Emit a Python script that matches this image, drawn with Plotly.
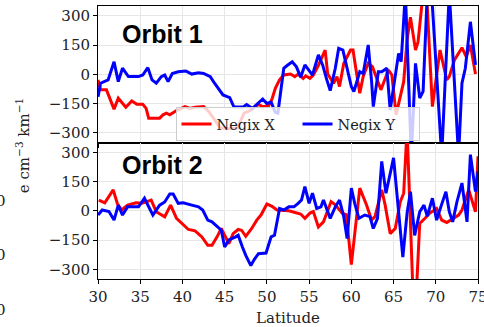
import plotly.graph_objects as go
from plotly.subplots import make_subplots

# Orbit 1 — Negix X
o1_x_lat = [30.0, 30.3, 31.0, 31.9, 32.4, 32.7, 33.3, 34.0, 34.6, 35.3, 35.7, 36.0, 37.3, 37.7,
            38.1, 38.5, 39.3, 40.3, 40.9, 41.5, 42.5, 43.1, 43.6, 44.5, 45.5, 46.5, 47.3, 48.0,
            48.4, 49.0, 49.5, 50.2, 50.6, 51.0, 51.5, 52.0, 52.8, 53.3, 53.7, 54.3, 54.6, 55.1,
            55.5, 56.1, 56.9, 57.2, 57.9, 58.3, 58.6, 59.1, 59.9, 60.2, 60.5, 61.0, 61.4, 62.0,
            62.5, 63.5, 64.4, 64.8, 65.3, 66.2, 66.6, 67.0, 67.6, 67.9, 68.5, 68.9, 69.6, 70.5,
            71.3, 71.6, 72.2, 73.1, 73.6, 74.1, 74.7]
o1_x_val = [-29, -80, -80, -179, -123, -140, -169, -137, -154, -154, -175, -225, -225, -208,
            -200, -208, -186, -166, -175, -169, -166, -190, -220, -276, -280, -276, -200, -186,
            -173, -155, -166, -162, -128, -72, -29, -4, 1, -12, 1, -21, -8, -21,
            -4, 46, 124, 1, -46, -12, -63, 55, 124, 124, 39, -97, -12, 57,
            39, -80, 22, -4, -208, -38, 176, 293, 124, 166, 420, 420, -166, 124,
            -29, -12, 72, 136, 90, 150, 1]

# Orbit 1 — Negix Y
o1_y_lat = [30.0, 30.3, 31.2, 31.9, 32.4, 32.9, 33.6, 34.8, 35.3, 35.9, 36.4, 36.9, 37.5, 37.9,
            38.3, 38.8, 39.5, 40.4, 41.1, 41.9, 42.5, 43.3, 43.8, 44.8, 45.3, 45.6, 46.1, 47.2,
            47.6, 48.3, 49.5, 50.0, 50.5, 51.0, 51.3, 52.0, 52.4, 53.0, 53.5, 54.0, 54.5, 55.1,
            55.4, 56.1, 56.6, 57.1, 57.5, 58.1, 58.5, 59.0, 59.4, 60.0, 60.3, 61.0, 61.4, 62.0,
            62.4, 62.6, 63.2, 63.6, 64.2, 64.6, 65.6, 65.9, 66.4, 67.1, 67.6, 68.1, 68.5, 69.0,
            69.5, 70.7, 71.6, 72.7, 73.1, 73.5, 74.1, 74.7]
o1_y_val = [-116, -46, -29, 64, -38, 31, -12, -12, -4, 34, -29, -46, -12, -4,
            -38, 4, 13, 17, 1, 8, 4, -12, -46, -106, -115, -120, -168, -168,
            -155, -175, -127, -150, -143, -195, -200, 31, 45, 64, 38, -15, 48, 14,
            -4, 99, 48, -29, -84, 31, 133, 124, 48, -63, -89, 13, 4, 150,
            -38, -166, 13, 13, 31, -183, 107, 64, 420, -420, 56, -122, -88, 420,
            420, -420, 420, -420, -46, 31, 269, 48]

# Orbit 2 — Negix X
o2_x_lat = [30.1, 30.8, 31.8, 32.3, 32.8, 33.5, 34.5, 35.2, 36.3, 36.9, 37.9, 38.6, 39.3, 40.0,
            40.7, 41.5, 42.3, 43.0, 43.5, 44.1, 44.6, 45.1, 45.5, 46.0, 46.6, 47.0, 47.5, 48.2,
            48.8, 49.3, 50.0, 50.6, 51.2, 52.6, 54.0, 54.5, 55.1, 55.5, 56.1, 56.7, 57.0, 57.6,
            58.1, 58.9, 59.4, 60.0, 61.0, 61.8, 62.4, 62.8, 63.6, 64.0, 64.6, 65.2, 65.8, 66.2,
            66.6, 67.3, 67.7, 68.1, 68.7, 69.3, 70.1, 70.7, 71.3, 72.0, 72.7, 73.1, 73.9, 74.7,
            75.0]
o2_x_val = [55, 41, 107, 36, 4, 29, 41, 38, 55, -5, -31, 29, -39, -65,
            -96, -103, -134, -177, -177, -134, -91, -134, -169, -117, -96, -100, -131, -91,
            -48, -22, 35, 23, 4, 0, -17, -39, -12, -4, -83, -57, -22, 47,
            30, -12, -20, -276, 116, 30, -47, -30, 107, 30, -117, -91, 47, 90,
            420, -420, -420, -65, -40, -12, 12, -48, -60, -40, -22, 4, 107, -5,
            279]

# Orbit 2 — Negix Y
o2_y_lat = [30.0, 30.5, 31.3, 31.9, 32.4, 32.9, 33.5, 34.8, 35.5, 36.1, 36.5, 37.3, 37.9, 38.5,
            38.9, 39.5, 40.1, 41.1, 41.9, 42.4, 43.0, 43.5, 44.1, 44.6, 45.0, 45.5, 46.3, 46.6,
            47.1, 47.5, 48.1, 48.5, 49.0, 49.9, 50.5, 50.9, 51.5, 52.0, 52.6, 53.2, 53.7, 54.1,
            54.5, 55.0, 55.4, 55.9, 56.4, 56.7, 57.5, 58.1, 58.6, 59.1, 59.5, 60.0, 60.4, 60.9,
            61.6, 62.2, 62.6, 63.1, 63.6, 64.1, 65.0, 65.5, 66.1, 66.6, 67.0, 67.5, 68.1, 68.6,
            69.0, 69.6, 70.1, 70.6, 71.2, 71.6, 72.0, 72.5, 73.1, 73.7, 74.1, 74.7, 75.0]
o2_y_val = [-22, 4, -4, -48, 29, -22, 20, 20, 64, 12, -22, 29, 45, 86,
            86, 38, 41, 29, 20, 4, -48, -57, -83, -100, -186, -150, -134, -126,
            -186, -229, -281, -250, -220, -217, -134, -126, 12, 4, 20, 20, 38, 55,
            124, 38, 90, 12, 20, 55, -39, 20, 55, -30, -143, 116, 38, -39,
            -22, -30, -91, -39, 253, 90, 271, 20, -238, -12, 98, -126, -5, 29,
            -28, 64, -48, 20, 98, -5, -57, 45, 142, -57, 288, 98, 202]

series_names = ["Negix X", "Negix Y"]
series_colors = ["#ff0000", "#0000ff"]
panel_titles = ["Orbit 1", "Orbit 2"]
y_ticks = [-300, -150, 0, 150, 300]
x_ticks = [30, 35, 40, 45, 50, 55, 60, 65, 70, 75]

SERIF = "DejaVu Serif"
TEXT = "#222222"

fig = make_subplots(rows=2, cols=1, shared_xaxes=True, vertical_spacing=0)

panels = [
    [(o1_x_lat, o1_x_val), (o1_y_lat, o1_y_val)],
    [(o2_x_lat, o2_x_val), (o2_y_lat, o2_y_val)],
]
for r, panel in enumerate(panels, start=1):
    for k, (lat, val) in enumerate(panel):
        fig.add_trace(
            go.Scatter(x=lat, y=val, mode="lines", name=series_names[k],
                       line=dict(color=series_colors[k], width=3),
                       showlegend=(r == 1)),
            row=r, col=1)

axis_common = dict(showline=True, linecolor="black", linewidth=1, mirror=True,
                   showgrid=True, gridcolor="#e6e6e6", gridwidth=1, zeroline=False,
                   ticks="outside", ticklen=4, tickcolor="black", automargin=False,
                   tickfont=dict(family=SERIF, size=15, color=TEXT))

for r in (1, 2):
    fig.update_yaxes(range=[-350, 350], tickvals=y_ticks, row=r, col=1, **axis_common)
    fig.update_xaxes(range=[30, 75], tickvals=x_ticks, ticklabeloverflow="allow",
                     row=r, col=1, **axis_common)
fig.update_xaxes(showticklabels=False, row=1, col=1)
fig.update_xaxes(title=dict(text="Latitude", font=dict(family=SERIF, size=15, color=TEXT),
                            standoff=10), row=2, col=1)

annotations = []
for title, ypos in zip(panel_titles, [0.897, 0.416]):
    annotations.append(dict(text="<b>" + title + "</b>", xref="paper", yref="paper",
                            x=0.057, y=ypos, xanchor="left", yanchor="middle",
                            showarrow=False,
                            font=dict(family="Liberation Sans", size=25, color="black")))
annotations.append(dict(text="e cm<sup>−3</sup> km<sup>−1</sup>", xref="paper", yref="paper",
                        x=-0.197, y=0.487, xanchor="center", yanchor="middle", textangle=-90,
                        showarrow=False, font=dict(family=SERIF, size=15, color=TEXT)))
# tick labels of a neighbouring panel, cut at the left edge
for ypos in [0.286, 0.088, -0.114]:
    annotations.append(dict(text="0", xref="paper", yref="paper", x=-0.236, y=ypos,
                            xanchor="right", yanchor="middle", showarrow=False,
                            font=dict(family=SERIF, size=15, color=TEXT)))

fig.update_layout(
    width=484, height=327,
    margin=dict(l=98, r=6, t=6, b=48),
    paper_bgcolor="white", plot_bgcolor="white",
    annotations=annotations,
    legend=dict(orientation="h", x=0.525, y=0.505, xanchor="center", yanchor="bottom",
                bgcolor="rgba(255,255,255,0.8)", bordercolor="#cccccc", borderwidth=1,
                font=dict(family=SERIF, size=14.5, color=TEXT),
                entrywidth=76, itemwidth=30),
)

fig.write_html("out.html")
